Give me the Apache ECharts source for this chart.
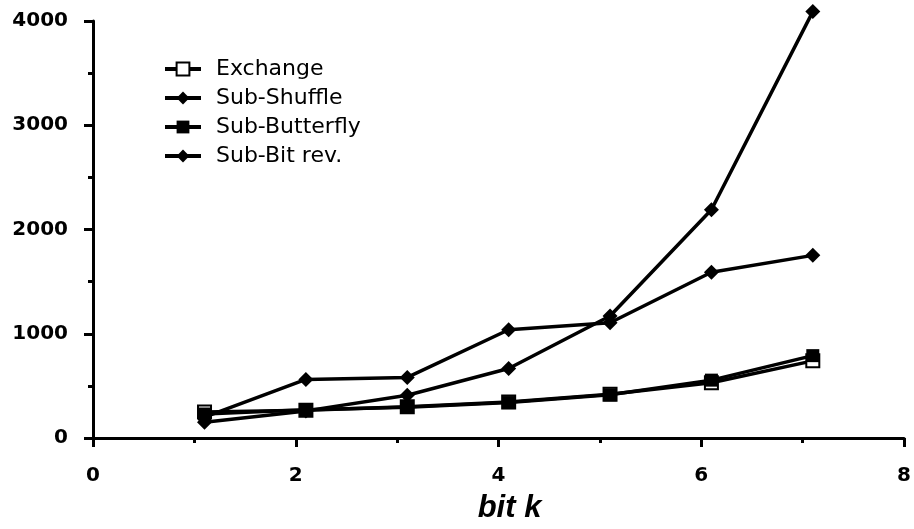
<!DOCTYPE html>
<html><head><meta charset="utf-8">
<script src="https://cdn.jsdelivr.net/npm/echarts@6/dist/echarts.min.js"></script>
<style>html,body{margin:0;padding:0;background:#fff}#c{width:914px;height:529px}</style>
</head><body><div id="c"></div>
<script>
const xValues = [1.1, 2.1, 3.1, 4.1, 5.1, 6.1, 7.1];
const exchange = [250, 265, 300, 345, 420, 530, 740];
const subShuffle = [200, 562, 581, 1038, 1105, 1590, 1752];
const subButterfly = [230, 270, 295, 340, 415, 555, 790];
const subBitRev = [150, 260, 410, 667, 1170, 2190, 4090];
const seriesNames = ['Exchange', 'Sub-Shuffle', 'Sub-Butterfly', 'Sub-Bit rev.'];
const xAxisTitle = 'bit k';

const pair = arr => arr.map((v, i) => [xValues[i], v]);
const labelFont = 'DejaVu Sans, sans-serif';
const titleFont = 'Liberation Sans, Arial, sans-serif';
function mk(name, data, symbol, size) {
  return {
    name, type: 'line', data: pair(data), symbol, symbolSize: size, clip: false,
    lineStyle: { color: '#000', width: 3.5 },
    itemStyle: { color: '#000', borderColor: '#000', borderWidth: symbol === 'emptyRect' ? 3 : 0 },
    emphasis: { disabled: true }, z: 3
  };
}
const chart = echarts.init(document.getElementById('c'), null, { renderer: 'canvas' });
chart.setOption({
  animation: false,
  backgroundColor: '#fff',
  grid: { left: 93, right: 6, top: 21, bottom: 88, containLabel: false },
  legend: {
    orient: 'vertical', left: 158, top: 53, itemGap: 7, itemWidth: 36, itemHeight: 16,
    lineStyle: { width: 4, color: '#000' },
    textStyle: { fontFamily: labelFont, fontSize: 22, color: '#000', padding: [0, 0, 0, 10] },
    data: seriesNames
  },
  xAxis: {
    type: 'value', min: 0, max: 8, interval: 2,
    name: xAxisTitle, nameLocation: 'middle', nameGap: 55,
    nameTextStyle: { fontFamily: titleFont, fontSize: 31, fontWeight: 'bold', fontStyle: 'italic', color: '#000', padding: [0, 0, 0, 22] },
    axisLine: { show: true, onZero: false, lineStyle: { color: '#000', width: 3 } },
    axisTick: { show: true, length: 9, lineStyle: { color: '#000', width: 3 } },
    minorTick: { show: true, splitNumber: 2, length: 5, lineStyle: { color: '#000', width: 3 } },
    axisLabel: { fontFamily: labelFont, fontSize: 20, fontWeight: 'bold', color: '#000', margin: 28 },
    splitLine: { show: false }
  },
  yAxis: {
    type: 'value', min: 0, max: 4000, interval: 1000,
    axisLine: { show: true, onZero: false, lineStyle: { color: '#000', width: 3 } },
    axisTick: { show: true, length: 9, lineStyle: { color: '#000', width: 3 } },
    minorTick: { show: true, splitNumber: 2, length: 5, lineStyle: { color: '#000', width: 3 } },
    axisLabel: { fontFamily: labelFont, fontSize: 20, fontWeight: 'bold', color: '#000', margin: 25, formatter: v => String(v) },
    splitLine: { show: false }
  },
  series: [
    mk(seriesNames[0], exchange, 'emptyRect', 13),
    mk(seriesNames[1], subShuffle, 'diamond', 15),
    mk(seriesNames[2], subButterfly, 'rect', 13),
    mk(seriesNames[3], subBitRev, 'diamond', 15)
  ]
});
</script></body></html>
